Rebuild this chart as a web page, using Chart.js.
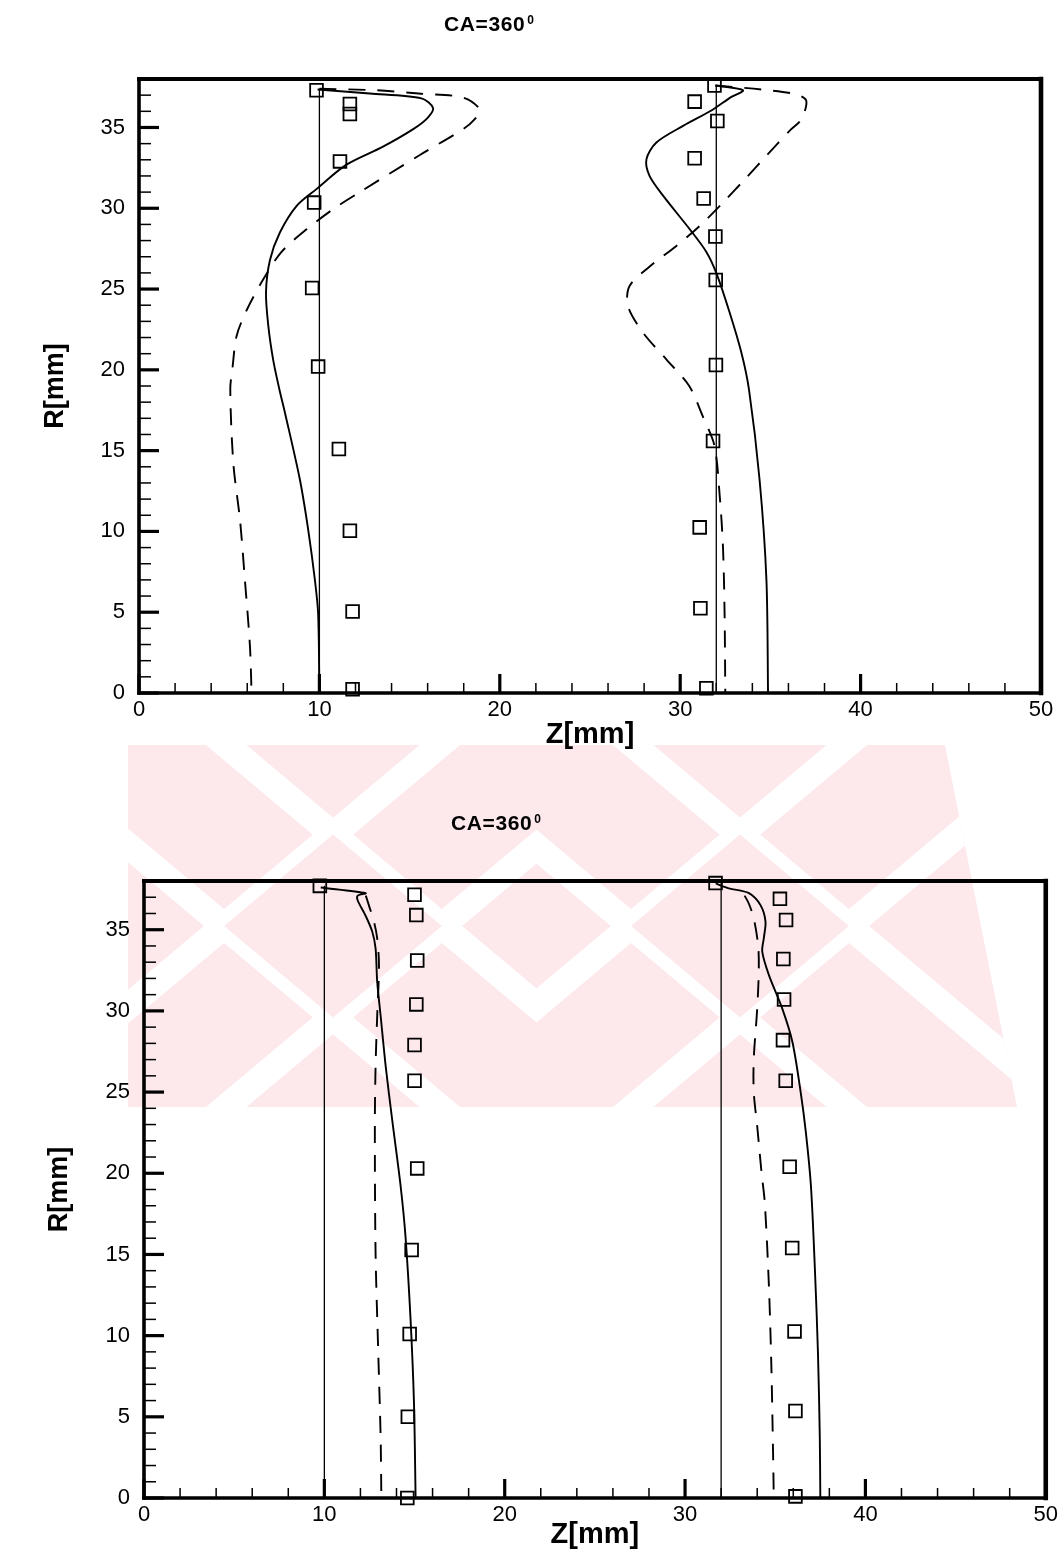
<!DOCTYPE html>
<html>
<head>
<meta charset="utf-8">
<script src="https://cdn.jsdelivr.net/npm/chart.js@4.4.1/dist/chart.umd.min.js"></script>
<style>
  html, body { margin: 0; padding: 0; background: #fff; }
  body { width: 1062px; height: 1558px; position: relative; overflow: hidden; }
  #mark { position: absolute; left: 0; top: 0; }
  .panel { position: absolute; left: 0; }
  #p1 { top: 0; }
  #p2 { top: 770px; }
</style>
</head>
<body>
<canvas id="mark" width="1062" height="1558"></canvas>
<div class="panel" id="p1"><canvas id="c1" width="1062" height="760"></canvas></div>
<div class="panel" id="p2"><canvas id="c2" width="1062" height="788"></canvas></div>
<script>
// ---- axis tick labels ----
const zTicks = [0, 10, 20, 30, 40, 50];
const rTicks = [0, 5, 10, 15, 20, 25, 30, 35];

// ---- upper plot ----
const upWallZ1 = [10, 10];
const upWallR1 = [0, 37.4];
const upWallZ2 = [32, 32];
const upWallR2 = [0, 37.6];

const upSolidZ1 = [9.9, 12.8, 15.66, 16.3, 16.0, 15.2, 13.5, 11.5, 9.85, 8.74, 7.81, 7.26, 7.04, 7.17, 7.44, 7.78, 8.1, 8.92, 9.38, 9.75, 9.93, 10.0];
const upSolidR1 = [37.35, 37.1, 36.8, 36.2, 35.6, 34.9, 33.8, 32.7, 31.2, 30.15, 28.5, 26.8, 24.8, 22.7, 20.6, 18.8, 17.3, 13.2, 10.1, 7.0, 4.9, 0];
const upDashZ1 = [10.0, 13.2, 15.5, 17.97, 18.9, 18.6, 17.97, 15.57, 12.24, 10.77, 9.29, 7.9, 6.89, 5.97, 5.41, 5.19, 5.06, 5.23, 5.6, 5.87, 6.15, 6.24];
const upDashR1 = [37.4, 37.3, 37.1, 36.85, 36.1, 35.5, 34.9, 33.3, 31.0, 29.95, 28.7, 27.3, 25.6, 23.7, 22.1, 20.2, 18.8, 14.2, 10.7, 7.0, 2.9, 0];
const upMeasZ1 = [9.84, 11.69, 11.69, 11.14, 9.71, 9.6, 9.93, 11.08, 11.69, 11.84, 11.84];
const upMeasR1 = [37.3, 36.45, 35.83, 32.9, 30.35, 25.07, 20.2, 15.1, 10.04, 5.04, 0.23];

const upSolidZ2 = [31.95, 33.48, 32.77, 31.8, 30.16, 28.68, 28.13, 28.3, 29.05, 30.53, 31.45, 32.0, 32.74, 33.39, 33.81, 34.4, 34.78, 34.87];
const upSolidR2 = [37.6, 37.3, 36.85, 36.1, 35.1, 34.07, 33.04, 32.0, 30.78, 28.7, 27.3, 26.0, 23.55, 21.07, 18.8, 13.2, 7.0, 0];
const upDashZ2 = [31.95, 34.5, 36.44, 36.99, 36.71, 36.07, 34.78, 33.67, 32.37, 31.08, 29.79, 28.31, 27.2, 27.1, 27.94, 29.23, 30.5, 31.26, 31.9, 32.19, 32.37, 32.46, 32.5];
const upDashR2 = [37.6, 37.35, 37.05, 36.65, 35.5, 34.8, 33.25, 31.9, 30.35, 28.9, 27.67, 26.4, 25.2, 23.95, 22.3, 20.65, 19.0, 17.1, 15.3, 12.2, 9.07, 4.94, 0];
const upMeasZ2 = [31.9, 30.8, 32.06, 30.8, 31.3, 31.95, 31.97, 31.98, 31.82, 31.08, 31.12, 31.45];
const upMeasR2 = [37.6, 36.6, 35.4, 33.1, 30.6, 28.25, 25.56, 20.3, 15.6, 10.25, 5.25, 0.3];

// ---- lower plot ----
const loWallZ1 = [10, 10];
const loWallR1 = [0, 37.7];
const loWallZ2 = [32, 32];
const loWallR2 = [0, 37.9];

const loSolidZ1 = [9.8, 12.29, 11.85, 11.85, 12.27, 12.65, 12.84, 12.93, 13.12, 13.4, 13.76, 14.23, 14.5, 14.78, 14.97, 15.06];
const loSolidR1 = [37.6, 37.25, 37.1, 36.8, 35.9, 34.9, 33.85, 31.8, 29.7, 26.6, 23.3, 19.2, 16.1, 11.0, 5.83, 0];
const loDashZ1 = [12.3, 12.47, 12.75, 12.93, 13.03, 12.93, 12.84, 12.8, 12.84, 12.99, 13.12, 13.16];
const loDashR1 = [37.1, 36.5, 35.5, 34.47, 32.8, 29.7, 26.6, 22.9, 15.1, 8.9, 3.77, 0];
const loMeasZ1 = [9.75, 15.0, 15.1, 15.15, 15.1, 15.0, 15.0, 15.15, 14.84, 14.73, 14.63, 14.6];
const loMeasR1 = [37.7, 37.15, 35.9, 33.1, 30.4, 27.9, 25.7, 20.3, 15.27, 10.1, 5.0, 0];

const loSolidZ2 = [31.7, 32.43, 33.54, 34.19, 34.46, 34.37, 34.28, 34.65, 35.39, 35.95, 36.41, 36.7, 36.98, 37.2, 37.37, 37.47, 37.5];
const loSolidR2 = [37.85, 37.55, 37.25, 36.5, 35.5, 34.5, 33.65, 32.2, 30.14, 28.1, 25.0, 22.5, 19.2, 14.07, 8.9, 3.77, 0];
const loDashZ2 = [33.3, 33.54, 33.81, 34.05, 34.09, 34.0, 33.81, 33.81, 34.0, 34.24, 34.42, 34.65, 34.79, 34.88, 34.92];
const loDashR2 = [37.1, 36.6, 35.7, 34.05, 32.6, 30.14, 27.05, 25.0, 22.9, 20.05, 18.2, 13.04, 7.9, 2.74, 0];
const loMeasZ2 = [31.69, 35.26, 35.6, 35.45, 35.49, 35.43, 35.58, 35.8, 35.94, 36.07, 36.12, 36.12];
const loMeasR2 = [37.87, 36.9, 35.6, 33.2, 30.7, 28.2, 25.7, 20.4, 15.4, 10.26, 5.36, 0.1];

const FONT = "'Liberation Sans', Arial, Helvetica, sans-serif";

function pts(zs, rs) { return zs.map((z, i) => ({ x: z, y: rs[i] })); }

function wall(zs, rs) {
  return { data: pts(zs, rs), showLine: true, borderColor: '#000', borderWidth: 1.3, pointRadius: 0, tension: 0, clip: false };
}
function solid(zs, rs) {
  return { data: pts(zs, rs), showLine: true, borderColor: '#000', borderWidth: 1.9, pointRadius: 0, tension: 0.3, clip: false };
}
function dashed(zs, rs) {
  return { data: pts(zs, rs), showLine: true, borderColor: '#000', borderWidth: 1.9, borderDash: [17, 12], pointRadius: 0, tension: 0.3, clip: false };
}
function squares(zs, rs) {
  return { data: pts(zs, rs), showLine: false, pointStyle: 'rect', pointRadius: 9, pointBorderWidth: 1.8,
           pointBorderColor: '#000', pointBackgroundColor: 'rgba(0,0,0,0)', borderColor: '#000', clip: false };
}

// inward tick marks, heavy frame and the caption with its superscript
const framePlugin = {
  id: 'frameTicks',
  afterDraw(chart, args, opts) {
    const { ctx, chartArea: a, scales: { x, y } } = chart;
    ctx.save();
    ctx.strokeStyle = '#000';
    ctx.lineCap = 'butt';
    for (let v = x.min; v <= x.max; v += 2) {
      const px = x.getPixelForValue(v);
      const major = v % 10 === 0;
      ctx.lineWidth = major ? 3.2 : 1.5;
      ctx.beginPath();
      ctx.moveTo(px, a.bottom);
      ctx.lineTo(px, a.bottom - (major ? 19 : 10));
      ctx.stroke();
    }
    for (let v = y.min; v <= y.max; v += 1) {
      const py = y.getPixelForValue(v);
      const major = v % 5 === 0;
      ctx.lineWidth = major ? 3.2 : 1.5;
      ctx.beginPath();
      ctx.moveTo(a.left, py);
      ctx.lineTo(a.left + (major ? 20 : 12), py);
      ctx.stroke();
    }
    const side = (x1, y1, x2, y2, w) => {
      ctx.lineWidth = w;
      ctx.beginPath(); ctx.moveTo(x1, y1); ctx.lineTo(x2, y2); ctx.stroke();
    };
    ctx.lineCap = 'square';
    side(a.left, a.top, a.right, a.top, 4);
    side(a.left, a.bottom, a.right, a.bottom, 3.6);
    side(a.left, a.top, a.left, a.bottom, 3.6);
    side(a.right, a.top, a.right, a.bottom, 4.6);

    // caption
    ctx.fillStyle = '#000';
    ctx.textAlign = 'left';
    ctx.textBaseline = 'alphabetic';
    ctx.font = 'bold 21px ' + FONT;
    if ('letterSpacing' in ctx) ctx.letterSpacing = '0.6px';
    ctx.fillText(opts.text, opts.x, opts.y);
    const w = ctx.measureText(opts.text).width;
    ctx.font = 'bold 12px ' + FONT;
    ctx.fillText(opts.sup, opts.x + w + 2, opts.y - 7);
    ctx.restore();
  }
};

function makeChart(id, datasets, g) {
  const tickFont = { family: FONT, size: 22 };
  return new Chart(document.getElementById(id), {
    type: 'scatter',
    data: { datasets },
    plugins: [framePlugin],
    options: {
      responsive: false,
      devicePixelRatio: 1,
      animation: false,
      events: [],
      layout: { padding: { left: 0, right: g.right, top: g.top, bottom: 0 } },
      plugins: {
        legend: { display: false },
        tooltip: { enabled: false },
        frameTicks: { text: 'CA=360', sup: '0', x: g.capX, y: g.capY }
      },
      scales: {
        x: {
          type: 'linear', min: 0, max: 50,
          afterBuildTicks: s => { s.ticks = zTicks.map(v => ({ value: v })); },
          afterFit: s => { s.height = g.xH; },
          grid: { display: false, drawTicks: false },
          border: { display: false },
          ticks: { font: tickFont, color: '#000', padding: 4, maxRotation: 0 },
          title: { display: true, text: 'Z[mm]', color: '#000',
                   font: { family: FONT, size: 29, weight: 'bold', lineHeight: 1 },
                   padding: { top: 0, bottom: g.xTitlePad } }
        },
        y: {
          type: 'linear', min: 0, max: 38,
          afterBuildTicks: s => { s.ticks = rTicks.map(v => ({ value: v })); },
          afterFit: s => { s.width = g.yW; },
          grid: { display: false, drawTicks: false },
          border: { display: false },
          ticks: { font: tickFont, color: '#000', padding: 14 },
          title: { display: true, text: 'R[mm]', color: '#000',
                   font: { family: FONT, size: 27, weight: 'bold', lineHeight: 1 },
                   padding: { top: g.yTitlePad, bottom: 0 } }
        }
      }
    }
  });
}

// pale background emblem behind the lower plot: two outlined crosses
function drawEmblem() {
  const g = document.getElementById('mark').getContext('2d');
  const pink = '#fde8ec';
  g.save();
  g.beginPath();
  g.moveTo(128, 745); g.lineTo(945, 745); g.lineTo(1017, 1107); g.lineTo(128, 1107);
  g.closePath();
  g.clip();
  g.fillStyle = pink;
  g.fillRect(0, 0, 1062, 1558);
  const th = 40 * Math.PI / 180, w = 70, L = 900;
  [[333, 926, 128, 536], [740, 926, 536, 1017]].forEach(([cx, cy, x0, x1]) => {
    g.save();
    g.beginPath();
    g.rect(x0, 740, x1 - x0, 372);
    g.clip();
    g.strokeStyle = '#fff';
    g.lineWidth = 26;
    for (const s of [1, -1]) {
      const dx = Math.cos(th), dy = s * Math.sin(th);
      const nx = -dy, ny = dx;
      for (const o of [w, -w]) {
        g.beginPath();
        g.moveTo(cx + o * nx - L * dx, cy + o * ny - L * dy);
        g.lineTo(cx + o * nx + L * dx, cy + o * ny + L * dy);
        g.stroke();
      }
    }
    g.fillStyle = pink;
    g.beginPath();
    g.moveTo(cx, cy - w / Math.cos(th));
    g.lineTo(cx + w / Math.sin(th), cy);
    g.lineTo(cx, cy + w / Math.cos(th));
    g.lineTo(cx - w / Math.sin(th), cy);
    g.closePath();
    g.fill();
    g.restore();
  });
  g.restore();
}
drawEmblem();

makeChart('c1', [
  wall(upWallZ1, upWallR1), wall(upWallZ2, upWallR2),
  solid(upSolidZ1, upSolidR1), solid(upSolidZ2, upSolidR2),
  dashed(upDashZ1, upDashR1), dashed(upDashZ2, upDashR2),
  squares(upMeasZ1, upMeasR1), squares(upMeasZ2, upMeasR2)
], { top: 79, right: 21, xH: 67, yW: 139, xTitlePad: 10.5, yTitlePad: 42.5, capX: 444, capY: 31 });

makeChart('c2', [
  wall(loWallZ1, loWallR1), wall(loWallZ2, loWallR2),
  solid(loSolidZ1, loSolidR1), solid(loSolidZ2, loSolidR2),
  dashed(loDashZ1, loDashR1), dashed(loDashZ2, loDashR2),
  squares(loMeasZ1, loMeasR1), squares(loMeasZ2, loMeasR2)
], { top: 111, right: 15, xH: 60, yW: 144, xTitlePad: 8.5, yTitlePad: 46.5, capX: 451, capY: 60 });
</script>
</body>
</html>
